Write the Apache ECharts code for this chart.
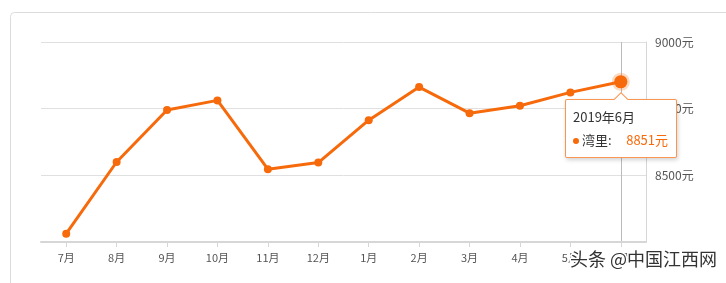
<!DOCTYPE html>
<html>
<head>
<meta charset="utf-8">
<script src="https://cdn.jsdelivr.net/npm/echarts@6/dist/echarts.min.js"></script>
<style>
html,body{margin:0;padding:0;background:#fff;}
#main{width:726px;height:283px;}
</style>
</head>
<body>
<div id="main"></div>
<script>
var categories = ['7月','8月','9月','10月','11月','12月','1月','2月','3月','4月','5月','6月'];
var fullMonths = ['2018年7月','2018年8月','2018年9月','2018年10月','2018年11月','2018年12月','2019年1月','2019年2月','2019年3月','2019年4月','2019年5月','2019年6月'];
var prices = [8281, 8550, 8745, 8781, 8523, 8548, 8707, 8831, 8733, 8761, 8811, 8851];
var seriesName = '湾里';
var yTicks = {min: 8250, max: 9000, interval: 250};
var highlightIndex = 11;

var ORANGE = '#f76a0c';
var chart = echarts.init(document.getElementById('main'), null, {renderer: 'canvas'});

var data = prices.map(function (v, i) {
  if (i === highlightIndex) {
    return {value: v, symbolSize: 12, itemStyle: {color: ORANGE, borderColor: 'rgba(247,106,12,0.25)', borderWidth: 5}};
  }
  return v;
});

chart.setOption({
  animation: false,
  graphic: [
    {type: 'rect', shape: {x: 10.5, y: 12.5, width: 780, height: 320, r: 4}, style: {fill: 'none', stroke: '#dcdcdc', lineWidth: 1}, z: -1},
    {type: 'text', x: 570, y: 250, style: {text: '头条 @中国江西网', font: '18px "Noto Sans CJK SC"', fill: '#333', stroke: '#fff', lineWidth: 3}, z: 100}
  ],
  grid: {left: 41, right: 80, top: 42, bottom: 41, containLabel: false, outerBoundsMode: 'none'},
  tooltip: {
    trigger: 'axis',
    alwaysShowContent: true,
    transitionDuration: 0,
    backgroundColor: '#fff',
    borderColor: 'rgba(247,106,12,0.7)',
    borderWidth: 1,
    borderRadius: 2,
    padding: [5, 8, 6, 7],
    extraCssText: 'box-shadow:1px 2px 4px rgba(0,0,0,0.18);overflow:visible;',
    position: function (point, params, dom, rect, size) {
      var p = chart.convertToPixel({seriesIndex: 0}, [highlightIndex, prices[highlightIndex]]);
      return [p[0] - size.contentSize[0] / 2, p[1] + 17];
    },
    axisPointer: {type: 'line', z: 0, lineStyle: {color: '#bbb', width: 1, type: 'solid'}},
    formatter: function (params) {
      var p = params[0];
      return '<div style="position:absolute;left:50%;top:-6px;width:9px;height:9px;margin-left:-5px;background:#fff;border-left:1px solid rgba(247,106,12,0.7);border-top:1px solid rgba(247,106,12,0.7);transform:rotate(45deg);"></div>' +
        '<div style="font:13px \'Noto Sans CJK SC\';color:#333;line-height:23px;width:95px;">' +
        fullMonths[p.dataIndex] + '<br/>' +
        '<span style="display:inline-block;width:6px;height:6px;border-radius:3px;background:' + ORANGE + ';margin-right:3px;vertical-align:middle;"></span>' +
        p.seriesName + ':&nbsp;&nbsp;&nbsp;&nbsp;&nbsp;<span style="color:' + ORANGE + ';font-size:13px;">' + p.value + '元</span></div>';
    }
  },
  xAxis: {
    type: 'category',
    data: categories,
    boundaryGap: true,
    axisLine: {show: true, lineStyle: {color: '#d6d6d6', width: 2}},
    axisTick: {show: true, alignWithLabel: true, length: 5, lineStyle: {color: '#d6d6d6'}},
    axisLabel: {color: '#555', fontSize: 11, margin: 10, fontFamily: 'Noto Sans CJK SC'},
    splitLine: {show: false}
  },
  yAxis: {
    type: 'value',
    position: 'right',
    min: yTicks.min,
    max: yTicks.max,
    interval: yTicks.interval,
    axisLine: {show: true, lineStyle: {color: '#d6d6d6', width: 1}},
    axisTick: {show: false},
    axisLabel: {color: '#555', fontSize: 12, margin: 9, showMinLabel: false, fontFamily: 'Noto Sans CJK SC',
      formatter: function (v) { return v + '元'; }},
    splitLine: {show: true, lineStyle: {color: '#e0e0e0', width: 1}}
  },
  series: [{
    name: seriesName,
    type: 'line',
    data: data,
    symbol: 'circle',
    symbolSize: 8,
    showSymbol: true,
    z: 5,
    lineStyle: {color: ORANGE, width: 3},
    itemStyle: {color: ORANGE},
    emphasis: {disabled: true}
  }]
});

chart.dispatchAction({type: 'showTip', seriesIndex: 0, dataIndex: highlightIndex});
</script>
</body>
</html>
